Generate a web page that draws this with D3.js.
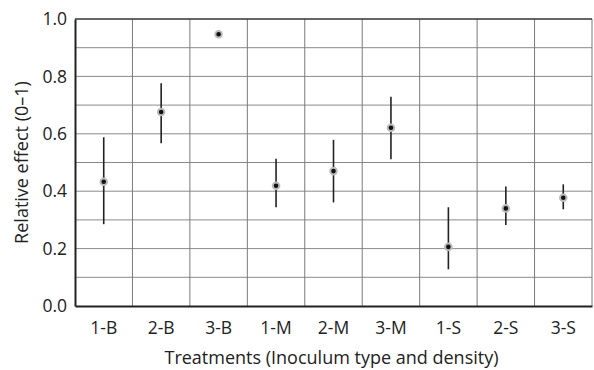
<!DOCTYPE html>
<html>
<head>
<meta charset="utf-8">
<script src="https://cdn.jsdelivr.net/npm/d3@7"></script>
<style>
  body { margin: 0; background: #fff; }
  text { font-family: "Open Sans", "Noto Sans", sans-serif; fill: #222; }
</style>
</head>
<body>
<div id="chart"></div>
<script>
// Treatments and their relative effect with error bar ends
var treatments = ["1-B", "2-B", "3-B", "1-M", "2-M", "3-M", "1-S", "2-S", "3-S"];
var effect = [0.433, 0.676, 0.947, 0.419, 0.47, 0.621, 0.206, 0.34, 0.377];
var lower  = [0.285, 0.567, 0.947, 0.344, 0.361, 0.511, 0.128, 0.282, 0.337];
var upper  = [0.588, 0.776, 0.947, 0.513, 0.579, 0.729, 0.344, 0.416, 0.424];
var yTicks = [0, 0.2, 0.4, 0.6, 0.8, 1.0];
var yGrid = [0.1, 0.2, 0.3, 0.4, 0.5, 0.6, 0.7, 0.8, 0.9];

var svgWidth = 594;
var svgHeight = 370;

var margin = { top: 19, right: 2, bottom: 64, left: 75 };
var width = svgWidth - margin.left - margin.right;
var height = svgHeight - margin.top - margin.bottom;

var svg = d3.select("#chart")
  .append("svg")
  .attr("width", svgWidth)
  .attr("height", svgHeight);

var chart = svg.append("g")
  .attr("transform", `translate(${margin.left}, ${margin.top})`);

var xScale = d3.scaleBand()
  .domain(treatments)
  .range([0, width]);

var yScale = d3.scaleLinear()
  .domain([0, 1])
  .range([height, 0]);

// horizontal grid
chart.selectAll(".hgrid")
  .data(yGrid)
  .enter()
  .append("line")
  .attr("x1", 0)
  .attr("x2", width)
  .attr("y1", d => yScale(d))
  .attr("y2", d => yScale(d))
  .attr("stroke", "#8a8a8a")
  .attr("stroke-width", 1);

// vertical grid at band edges
chart.selectAll(".vgrid")
  .data(treatments)
  .enter()
  .append("line")
  .attr("x1", d => xScale(d) + xScale.step())
  .attr("x2", d => xScale(d) + xScale.step())
  .attr("y1", 0)
  .attr("y2", height)
  .attr("stroke", "#7a7a7a")
  .attr("stroke-width", 1);

// top frame line
chart.append("line")
  .attr("x1", 0).attr("x2", width)
  .attr("y1", yScale(1)).attr("y2", yScale(1))
  .attr("stroke", "#333").attr("stroke-width", 1.5);

var yAxis = d3.axisLeft(yScale)
  .tickValues(yTicks)
  .tickFormat(d3.format(".1f"))
  .tickSize(0)
  .tickPadding(8);

var xAxis = d3.axisBottom(xScale)
  .tickSize(0)
  .tickPadding(16);

var yG = chart.append("g").call(yAxis);
var xG = chart.append("g")
  .attr("transform", `translate(0,${height})`)
  .call(xAxis);

[yG, xG].forEach(function(g) {
  g.select(".domain").attr("stroke", "#222").attr("stroke-width", 2);
  g.selectAll("text").attr("font-size", 17.5).attr("fill", "#222")
    .style("font-family", "'Open Sans', 'Noto Sans', sans-serif");
});

// error bars
chart.selectAll(".err")
  .data(treatments)
  .enter()
  .append("line")
  .attr("x1", d => xScale(d) + xScale.bandwidth() / 2)
  .attr("x2", d => xScale(d) + xScale.bandwidth() / 2)
  .attr("y1", (d, i) => yScale(lower[i]))
  .attr("y2", (d, i) => yScale(upper[i]))
  .attr("stroke", "#222")
  .attr("stroke-width", 1.6);

// points
chart.selectAll(".pt")
  .data(treatments)
  .enter()
  .append("circle")
  .attr("cx", d => xScale(d) + xScale.bandwidth() / 2)
  .attr("cy", (d, i) => yScale(effect[i]))
  .attr("r", 3.3)
  .attr("fill", "#111")
  .attr("stroke", "#bbb")
  .attr("stroke-width", 2);

// axis titles
svg.append("text")
  .attr("x", margin.left + width / 2 - 2)
  .attr("y", 364)
  .attr("text-anchor", "middle")
  .attr("font-size", 18)
  .text("Treatments (Inoculum type and density)");

svg.append("text")
  .attr("transform", `translate(28, ${margin.top + height / 2}) rotate(-90)`)
  .attr("text-anchor", "middle")
  .attr("font-size", 18)
  .text("Relative effect (0–1)");
</script>
</body>
</html>
